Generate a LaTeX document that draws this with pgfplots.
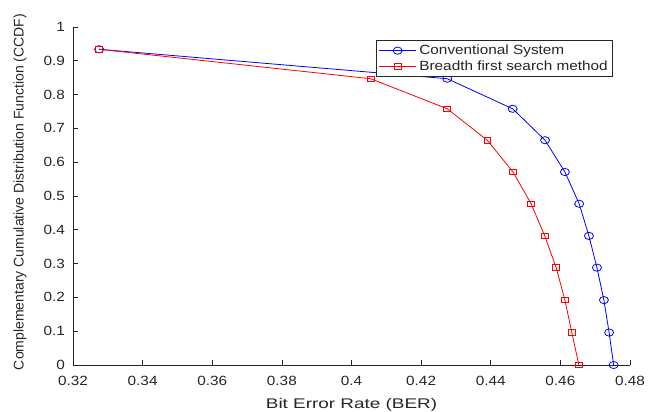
\documentclass[border=0pt]{standalone}
\usepackage{fontspec}
\setmainfont{Liberation Sans}[FakeStretch=1.15]
\newfontfamily\ylabfont{Liberation Sans}
\newfontfamily\xlabfont{Liberation Sans}[FakeStretch=1.35]
\usepackage{pgfplots}
\pgfplotsset{compat=1.18}
\usetikzlibrary{calc}
\definecolor{axisgray}{HTML}{262626}
\definecolor{mblue}{HTML}{0000FF}
\definecolor{mred}{HTML}{FF0000}

\begin{document}
\begin{tikzpicture}
\begin{axis}[
  scale only axis,width=417.75pt,height=253.5pt,
  xmin=0.32,xmax=0.48,ymin=0,ymax=1,
  xtick={0.32,0.34,0.36,0.38,0.4,0.42,0.44,0.46,0.48},
  ytick={0,0.1,0.2,0.3,0.4,0.5,0.6,0.7,0.8,0.9,1},
  axis lines*=left,
  tick align=inside,
  major tick length=3.75pt,
  axis line style={color=axisgray,line width=0.5pt},
  tick style={color=axisgray,line width=0.5pt},
  tick label style={font=\fontsize{10}{12}\selectfont,color=axisgray},
  /pgf/number format/assume math mode=true,
  xticklabel style={anchor=base,yshift=-15.75pt},
  yticklabel style={xshift=-2.5pt},
  xlabel={\xlabfont Bit Error Rate (BER)},
  ylabel={\ylabfont Complementary Cumulative Distribution Function (CCDF)},
  label style={font=\fontsize{10.5}{13}\selectfont,color=axisgray},
  xlabel style={at={(axis description cs:0.5,-0.130)},anchor=base},
  ylabel style={at={(axis description cs:-0.0952,0.512)},anchor=center},
  legend style={at={(0.969,0.962)},anchor=north east,draw=axisgray,
    line width=0.5pt,font=\fontsize{10}{12}\selectfont,text=axisgray,
    inner sep=1.5pt,row sep=-1pt},
  legend cell align=left,
  legend image code/.code={\draw[mark repeat=2,mark phase=2]
    plot coordinates {(0pt,0pt)(14pt,0pt)(28pt,0pt)};},
  every axis plot/.append style={line width=0.6pt}]
\addplot[color=mblue,mark=o,mark size=2.7pt,mark options={solid,xscale=1.25}]
  coordinates{(0.3275,0.934)(0.4275,0.847)(0.4463,0.758)(0.4556,0.665)(0.4613,0.571)
  (0.4654,0.477)(0.4682,0.382)(0.4705,0.288)(0.4725,0.192)(0.4740,0.096)(0.4753,0)};
\addlegendentry{Conventional System}
\addplot[color=mred,mark=square,mark size=2.1pt,mark options={solid,xscale=1.2}]
  coordinates{(0.3275,0.934)(0.4055,0.847)(0.4275,0.758)(0.4390,0.665)(0.4464,0.571)
  (0.4516,0.477)(0.4555,0.382)(0.4588,0.288)(0.4613,0.192)(0.4633,0.096)(0.4653,0)};
\addlegendentry{Breadth first search method}
\end{axis}
\pgfresetboundingbox
\path ($(current axis.south west)+(-54.75pt,-35.25pt)$) rectangle
  ($(current axis.north east)+(20.25pt,20.25pt)$);
\end{tikzpicture}
\end{document}
